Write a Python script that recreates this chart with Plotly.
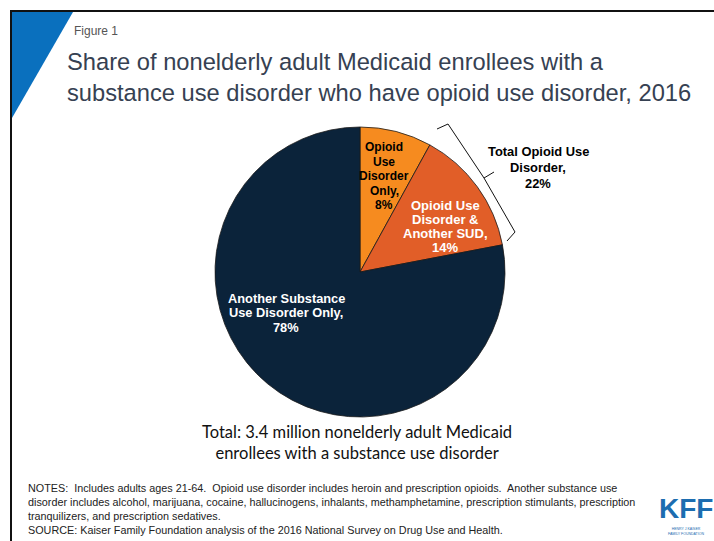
import plotly.graph_objects as go

W, H = 714, 541

# ---- data ----
slice_labels = ["Opioid Use Disorder Only", "Opioid Use Disorder & Another SUD", "Another Substance Use Disorder Only"]
slice_values = [8, 14, 78]
slice_colors = ["#F68B1F", "#E15E28", "#0B233A"]
label_lines = [["Opioid", "Use", "Disorder", "Only,"],
               ["Opioid Use", "Disorder &", "Another SUD,"],
               ["Another Substance", "Use Disorder Only,"]]
total_opioid_lines = ["Total Opioid Use", "Disorder,"]
total_opioid_value = slice_values[0] + slice_values[1]

title_lines = ["Share of nonelderly adult Medicaid enrollees with a",
               "substance use disorder who have opioid use disorder, 2016"]
notes_lines = [
    "NOTES:  Includes adults ages 21-64.  Opioid use disorder includes heroin and prescription opioids.  Another substance use",
    "disorder includes alcohol, marijuana, cocaine, hallucinogens, inhalants, methamphetamine, prescription stimulants, prescription",
    "tranquilizers, and prescription sedatives.",
    "SOURCE: Kaiser Family Foundation analysis of the 2016 National Survey on Drug Use and Health.",
]
total_note = ["Total: 3.4 million nonelderly adult Medicaid", "enrollees with a substance use disorder"]


def px(x):
    return x / W


def py(y):
    return 1 - y / H


cx, cy, r = 360, 272, 145

fig = go.Figure()
fig.add_trace(go.Pie(
    labels=slice_labels, values=slice_values, sort=False, direction="clockwise",
    rotation=0, marker=dict(colors=slice_colors, line=dict(color="#1a1a1a", width=0.8)),
    textinfo="none", hoverinfo="label+percent", showlegend=False,
    domain=dict(x=[px(cx - r), px(cx + r)], y=[py(cy + r), py(cy - r)]),
))

ann = []


def add(x, y, text, size, color, family="Liberation Sans, Arial", xanchor="center", align="center"):
    ann.append(dict(x=px(x), y=py(y), xref="paper", yref="paper", showarrow=False,
                    xanchor=xanchor, yanchor="middle", text=text, align=align,
                    font=dict(family=family, size=size, color=color)))


def add_block(x, y0, step, lines, size, color):
    for i, t in enumerate(lines):
        add(x, y0 + i * step, "<b>" + t + "</b>", size, color)


# slice labels (line by line for tight spacing)
label_pos = [(384, 147, 14.5, "#000000", 12), (445, 205, 14.3, "#FFFFFF", 13), (286, 298, 14.5, "#FFFFFF", 12.8)]
for lines, v, (x, y, st, c, s) in zip(label_lines, slice_values, label_pos):
    add_block(x, y, st, lines + [f"{v}%"], s, c)
add_block(538, 151, 16, total_opioid_lines + [f"{total_opioid_value}%"], 12.9, "#000000")

# figure label and title
add(72, 31, "Figure 1", 12, "#555555", xanchor="left")
add(65, 77, "<br>".join(title_lines), 23.7, "#364152", xanchor="left", align="left")

# total note
add(357, 442, "<br>".join(total_note), 16.5, "#111111", family="Lato, Open Sans")

# notes
add(26, 509, "<br>".join(notes_lines), 10.8, "#222222",
    family="Liberation Sans Narrow, Arial Narrow, Liberation Sans", xanchor="left", align="left")

# KFF logo
add(686, 508, "<b>KFF</b>", 28, "#1C6DB0", family="Liberation Sans Narrow, Liberation Sans")
add(686, 531, "HENRY J KAISER<br>FAMILY FOUNDATION", 3.5, "#1C6DB0")

shapes = []
# frame
shapes.append(dict(type="rect", xref="paper", yref="paper", x0=px(11), y0=py(560), x1=px(730), y1=py(11),
                   line=dict(color="#111111", width=2)))
# blue triangle
shapes.append(dict(type="path", xref="paper", yref="paper",
                   path=f"M {px(12)} {py(12)} L {px(73)} {py(12)} L {px(12)} {py(118)} Z",
                   fillcolor="#0A70BE", line=dict(width=0)))
# brace
pts = [(437, 129), (448, 124), (484, 178), (494, 172)]
pts2 = [(484, 178), (515, 232), (507, 241)]
p = "M " + " L ".join(f"{px(a)} {py(b)}" for a, b in pts) + " M " + " L ".join(f"{px(a)} {py(b)}" for a, b in pts2)
shapes.append(dict(type="path", xref="paper", yref="paper", path=p, line=dict(color="#111111", width=1)))

fig.update_layout(width=W, height=H, margin=dict(l=0, r=0, t=0, b=0),
                  paper_bgcolor="white", plot_bgcolor="white",
                  annotations=ann, shapes=shapes)
fig.write_html("out.html", config={"displayModeBar": False},
               post_script="document.body.style.margin='0';document.body.style.overflow='hidden';")
